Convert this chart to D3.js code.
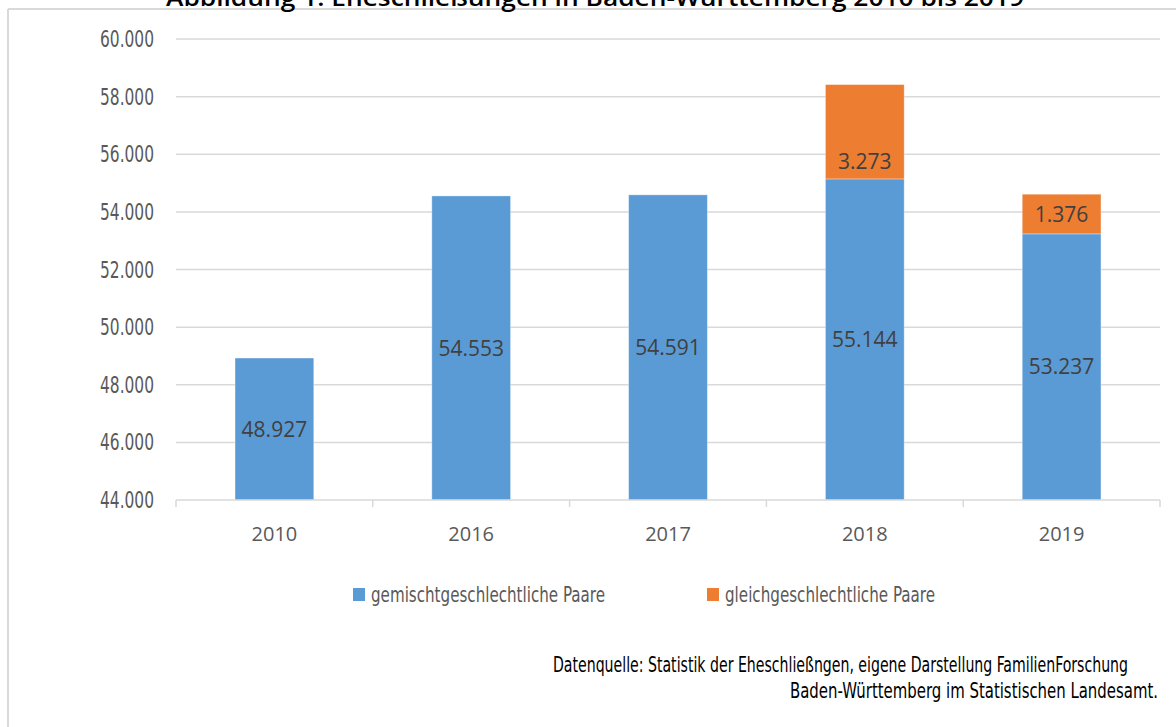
<!DOCTYPE html>
<html>
<head>
<meta charset="utf-8">
<script src="https://cdn.jsdelivr.net/npm/d3@7"></script>
<style>
  body { margin: 0; background: #fff; }
  svg { display: block; }
  .narrow { font-family: "Liberation Sans Narrow", "DejaVu Sans Condensed", sans-serif; }
</style>
</head>
<body>
<div id="chart"></div>
<script>
const years = ['2010', '2016', '2017', '2018', '2019'];
const mixedCouples = [48927, 54553, 54591, 55144, 53237];
const sameSexCouples = [0, 0, 0, 3273, 1376];
const yTicks = [44000, 46000, 48000, 50000, 52000, 54000, 56000, 58000, 60000];
const seriesNames = ['gemischtgeschlechtliche Paare', 'gleichgeschlechtliche Paare'];
const colors = ['#5B9BD5', '#ED7D31'];

const width = 1176, height = 727;
const fmt = v => d3.format(',')(v).replace(/,/g, '.');

const svg = d3.select('#chart').append('svg')
  .attr('width', width).attr('height', height);

// frame lines (top + left)
svg.append('line').attr('x1', 8).attr('x2', width).attr('y1', 9).attr('y2', 9)
  .attr('stroke', '#d9d9d9').attr('stroke-width', 2);
svg.append('line').attr('x1', 8).attr('x2', 8).attr('y1', 9).attr('y2', height)
  .attr('stroke', '#d9d9d9').attr('stroke-width', 2);

// title (mostly cut off at the top)
svg.append('text')
  .attr('x', 166).attr('y', 6)
  .attr('textLength', 858).attr('lengthAdjust', 'spacingAndGlyphs')
  .style('font-family', '"Open Sans", sans-serif')
  .style('font-weight', '600').style('font-size', '24px')
  .text('Abbildung 1: Eheschließungen in Baden-Württemberg 2010 bis 2019');

const x = d3.scaleBand().domain(years).range([176, 1160]);
const y = d3.scaleLinear().domain([44000, 60000]).range([500, 39]);
const barW = x.bandwidth() * 0.4;

// gridlines
svg.append('g').selectAll('line').data(yTicks.slice(1)).join('line')
  .attr('x1', 176).attr('x2', 1160)
  .attr('y1', d => y(d)).attr('y2', d => y(d))
  .attr('stroke', '#d9d9d9').attr('stroke-width', 1.5);

// y tick labels
svg.append('g').selectAll('text').data(yTicks).join('text')
  .attr('class', 'narrow')
  .attr('x', 154).attr('y', d => y(d) + 8)
  .attr('text-anchor', 'end')
  .attr('textLength', 54).attr('lengthAdjust', 'spacingAndGlyphs')
  .attr('fill', '#595959').style('font-size', '23px')
  .text(fmt);

// stacked bars
const stacked = years.map((yr, i) => ({ yr, mixed: mixedCouples[i], same: sameSexCouples[i] }));
const stack = d3.stack().keys(['mixed', 'same'])(stacked);

const labelAtBase = ['2018']; // orange label sits near segment bottom there

stack.forEach((layer, li) => {
  const g = svg.append('g');
  g.selectAll('rect').data(layer.filter(d => d[1] > d[0])).join('rect')
    .attr('x', d => x(d.data.yr) + (x.bandwidth() - barW) / 2)
    .attr('width', barW)
    .attr('y', d => y(d[1]))
    .attr('height', d => y(Math.max(d[0], 44000)) - y(d[1]))
    .attr('fill', colors[li])
    .attr('stroke', '#ffffff').attr('stroke-opacity', 0.4).attr('stroke-width', 0.8);

  g.selectAll('text').data(layer.filter(d => d[1] > d[0])).join('text')
    .attr('x', d => x(d.data.yr) + x.bandwidth() / 2)
    .attr('y', d => {
      const lo = y(Math.max(d[0], 44000)), hi = y(d[1]);
      if (li === 1 && labelAtBase.includes(d.data.yr)) return lo - 17;
      return (lo + hi) / 2;
    })
    .attr('dy', '0.36em')
    .attr('text-anchor', 'middle')
    .attr('fill', '#404040')
    .style('font-family', '"Open Sans", sans-serif').style('font-size', '21px')
    .text(d => fmt(d[1] - d[0]));
});

// x axis line + ticks at category boundaries
svg.append('line').attr('x1', 176).attr('x2', 1160).attr('y1', 500).attr('y2', 500)
  .attr('stroke', '#d9d9d9').attr('stroke-width', 1.5);
const bounds = years.map(d => x(d)).concat([x(years[years.length - 1]) + x.bandwidth()]);
svg.append('g').selectAll('line').data(bounds).join('line')
  .attr('x1', d => d).attr('x2', d => d).attr('y1', 500).attr('y2', 507)
  .attr('stroke', '#d9d9d9').attr('stroke-width', 1.5);

svg.append('g').selectAll('text').data(years).join('text')
  .attr('x', d => x(d) + x.bandwidth() / 2).attr('y', 541)
  .attr('text-anchor', 'middle').attr('fill', '#595959')
  .style('font-family', '"Open Sans", sans-serif').style('font-size', '20px')
  .text(d => d);

// legend
const legendX = [353, 707];
const legendW = [234, 210];
const lg = svg.append('g').selectAll('g').data(seriesNames).join('g');
lg.append('rect')
  .attr('x', (d, i) => legendX[i]).attr('y', 588)
  .attr('width', 12).attr('height', 13)
  .attr('fill', (d, i) => colors[i]);
lg.append('text')
  .attr('class', 'narrow')
  .attr('x', (d, i) => legendX[i] + 18).attr('y', 602)
  .attr('textLength', (d, i) => legendW[i]).attr('lengthAdjust', 'spacingAndGlyphs')
  .attr('fill', '#595959').style('font-size', '22px')
  .text(d => d);

// source note
const note = svg.append('g').attr('class', 'narrow').style('font-size', '22px').attr('fill', '#000');
note.append('text').attr('x', 553).attr('y', 672)
  .attr('textLength', 575).attr('lengthAdjust', 'spacingAndGlyphs')
  .text('Datenquelle: Statistik der Eheschließngen, eigene Darstellung FamilienForschung');
note.append('text').attr('x', 790).attr('y', 698)
  .attr('textLength', 368).attr('lengthAdjust', 'spacingAndGlyphs')
  .text('Baden-Württemberg im Statistischen Landesamt.');
</script>
</body>
</html>
